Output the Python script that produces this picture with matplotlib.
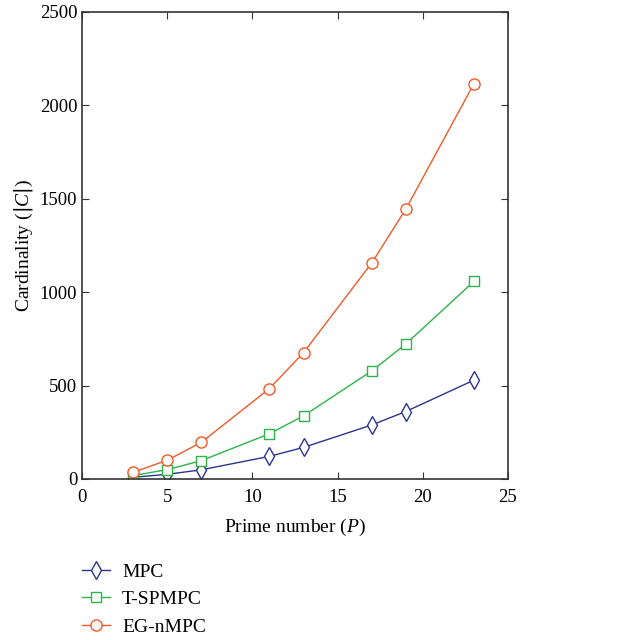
import matplotlib.pyplot as plt

plt.rcParams['font.family'] = ['Liberation Serif', 'DejaVu Serif']
plt.rcParams['mathtext.fontset'] = 'custom'
plt.rcParams['mathtext.it'] = 'Liberation Serif:italic'

# valeurs
primes = [3, 5, 7, 11, 13, 17, 19, 23]
mpc = [9, 25, 49, 121, 169, 289, 361, 529]
t_spmpc = [18, 50, 98, 242, 338, 578, 722, 1058]
eg_nmpc = [36, 100, 196, 484, 676, 1156, 1444, 2116]

fig = plt.figure(figsize=(6.26, 6.4), dpi=100)
ax = fig.add_axes([0.131, 0.2516, 0.6805, 0.7297])

ax.plot(primes, mpc, color='#2b3590', marker='d', markersize=9, markerfacecolor='white',
        markeredgewidth=1.0, linewidth=1.0, label='MPC')
ax.plot(primes, t_spmpc, color='#2db34a', marker='s', markersize=7, markerfacecolor='white',
        markeredgewidth=1.0, linewidth=1.0, label='T-SPMPC')
ax.plot(primes, eg_nmpc, color='#f05a28', marker='o', markersize=8, markerfacecolor='white',
        markeredgewidth=1.0, linewidth=1.0, label='EG-nMPC')

ax.set_xlim(0, 25)
ax.set_ylim(0, 2500)
ax.set_xticks([0, 5, 10, 15, 20, 25])
ax.set_yticks([0, 500, 1000, 1500, 2000, 2500])
ax.tick_params(direction='in', top=True, right=True, labelsize=13.5, length=5, color='#333333')
ax.tick_params(axis='x', pad=7)
for s in ax.spines.values():
    s.set_linewidth(1.2)
    s.set_color('#333333')

ax.set_xlabel('Prime number ($P$)', fontsize=14, labelpad=8)
ax.set_ylabel('Cardinality ($|C|$)', fontsize=14, labelpad=3)

handles, labels = ax.get_legend_handles_labels()
fig.legend(handles, labels, loc='upper left', bbox_to_anchor=(0.119, 0.132), frameon=False,
           fontsize=14, handlelength=1.45, handletextpad=0.6, labelspacing=0.5, borderaxespad=0)

fig.savefig('out.png', dpi=100)
